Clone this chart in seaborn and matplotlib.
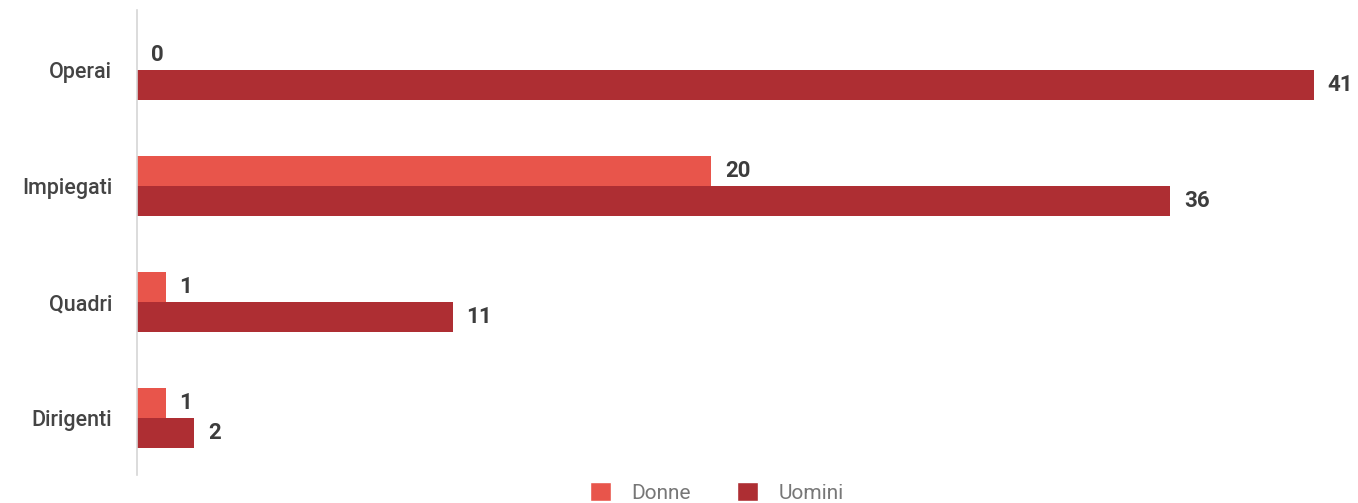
import matplotlib
matplotlib.use("Agg")
import matplotlib.pyplot as plt
import seaborn as sns
import pandas as pd
from matplotlib.patches import Patch

categories = ["Operai", "Impiegati", "Quadri", "Dirigenti"]
donne = [0, 20, 1, 1]
uomini = [41, 36, 11, 2]
series = ["Donne", "Uomini"]
colors = {"Donne": "#E8554B", "Uomini": "#AE2E33"}

sns.set_theme(style="white")
plt.rcParams["font.family"] = ["Roboto", "DejaVu Sans"]

df = pd.DataFrame({
    "Categoria": categories * 2,
    "Valore": donne + uomini,
    "Genere": ["Donne"] * len(categories) + ["Uomini"] * len(categories),
})

fig = plt.figure(figsize=(13.58, 5.03), dpi=100)
ax = fig.add_axes([0.1009, 0.0557, 0.8991, 0.9244])

sns.barplot(data=df, y="Categoria", x="Valore", hue="Genere", order=categories,
            hue_order=series, palette=colors, orient="h", width=0.517,
            saturation=1, linewidth=0, ax=ax, legend=False)

for cont in ax.containers:
    ax.bar_label(cont, padding=10, fontsize=16, fontweight="bold", color="#3d3d3d")

ax.set_xlim(0, 42.55)
ax.set_ylim(3.49, -0.517)
ax.set_xlabel("")
ax.set_ylabel("")
ax.set_xticks([])
ax.tick_params(axis="y", length=0, pad=18, labelsize=15.5, labelcolor="#444444")
for lbl in ax.get_yticklabels():
    lbl.set_fontweight("medium")
for s in ["top", "right", "bottom"]:
    ax.spines[s].set_visible(False)
ax.spines["left"].set_color("#d6d6d6")
ax.spines["left"].set_linewidth(1.2)

handles = [Patch(facecolor=colors[s], label=s) for s in series]
fig.legend(handles=handles, loc="center", bbox_to_anchor=(0.528, 0.021), ncol=2,
           frameon=False, fontsize=15, labelcolor="#777777", handlelength=1.0,
           handleheight=1.0, columnspacing=2.2, handletextpad=1.0)

fig.savefig("out.png", dpi=100)
